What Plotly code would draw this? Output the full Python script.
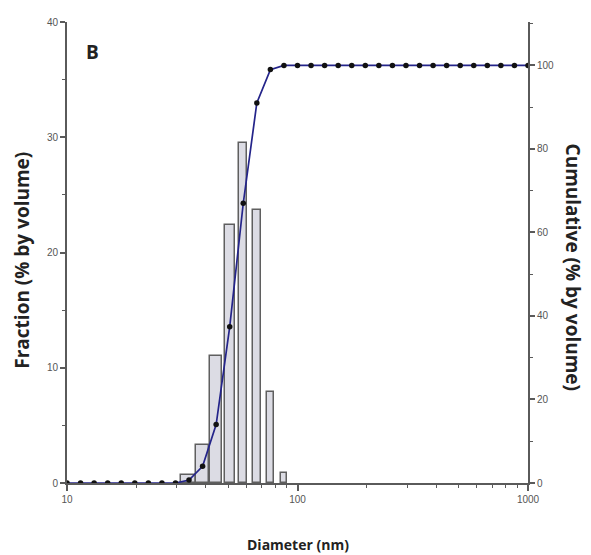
import plotly.graph_objects as go

# diameter grid (nm), log spaced, 17 points per decade from 10 to 1000
diameter = [10 * 10 ** (k / 17) for k in range(35)]

# volume fraction (%) of the histogram bins
bar_index = [9, 10, 11, 12, 13, 14, 15, 16]
fraction = [0.7, 3.3, 11.0, 22.4, 29.5, 23.7, 7.9, 0.9]

# cumulative volume (%) at each grid point
cumulative = [0, 0, 0, 0, 0, 0, 0, 0, 0, 0.7, 4.0, 14.0, 37.4, 67.0, 91.0, 99.0,
              100, 100, 100, 100, 100, 100, 100, 100, 100, 100, 100, 100, 100,
              100, 100, 100, 100, 100, 100]

bar_x = [diameter[i] for i in bar_index]
bin_nm = 5.0  # bar width in nm (plotly takes it in data units)

axis_col = "#5a5a5a"
tick_font = dict(family="Liberation Sans", size=10, color="#555555")
title_font = dict(family="Open Sans", size=19, color="#222222")
minor_x = [20, 30, 40, 50, 60, 70, 80, 90, 200, 300, 400, 500, 600, 700, 800, 900]

fig = go.Figure()

fig.add_trace(go.Bar(
    x=bar_x, y=fraction, width=[bin_nm] * len(bar_x),
    marker=dict(color="#dcdce4", line=dict(color="#5f5f5f", width=1.5)),
    showlegend=False,
))

fig.add_trace(go.Scatter(
    x=diameter, y=cumulative, yaxis="y2", mode="lines+markers",
    line=dict(color="#24248a", width=1.7),
    marker=dict(color="#111111", size=5.5),
    showlegend=False,
))

# page has an 8px body margin, so the figure is a bit smaller than the window
fig.update_layout(
    width=583, height=547,
    margin=dict(l=59, r=63, t=8, b=72),
    paper_bgcolor="white", plot_bgcolor="white",
    bargap=0,
    xaxis=dict(
        type="log", range=[1, 3],
        tickvals=[10, 100, 1000], ticktext=["10", "100", "1000"],
        ticks="outside", ticklen=6, tickwidth=1.5, tickcolor=axis_col,
        minor=dict(tickvals=minor_x, ticks="outside", ticklen=3, tickwidth=1.2,
                   tickcolor=axis_col),
        showline=True, linecolor=axis_col, linewidth=2,
        showgrid=False, zeroline=False,
        tickfont=tick_font,
    ),
    xaxis2=dict(
        type="log", range=[1, 3], overlaying="x", side="top",
        tickvals=[10, 100, 1000], ticktext=["", "", ""],
        ticks="inside", ticklen=5, tickwidth=1.5, tickcolor=axis_col,
        minor=dict(tickvals=minor_x, ticks="inside", ticklen=3, tickwidth=1.2,
                   tickcolor=axis_col),
        showline=True, linecolor=axis_col, linewidth=2,
        showgrid=False, zeroline=False,
    ),
    yaxis=dict(
        range=[0, 40], dtick=10,
        ticks="outside", ticklen=5, tickwidth=1.5, tickcolor=axis_col,
        minor=dict(dtick=5, ticks="outside", ticklen=3, tickwidth=1.2, tickcolor=axis_col),
        showline=True, linecolor=axis_col, linewidth=2,
        showgrid=False, zeroline=False,
        tickfont=tick_font,
    ),
    yaxis2=dict(
        range=[0, 110.4], dtick=20, overlaying="y", side="right",
        ticks="outside", ticklen=5, tickwidth=1.5, tickcolor=axis_col,
        minor=dict(dtick=10, ticks="outside", ticklen=3, tickwidth=1.2, tickcolor=axis_col),
        showline=True, linecolor=axis_col, linewidth=2,
        showgrid=False, zeroline=False,
        tickfont=tick_font,
    ),
    annotations=[
        dict(text="<b>Fraction (% by volume)</b>", xref="paper", yref="paper",
             x=-0.098, y=0.484, textangle=-90, showarrow=False,
             font=title_font, xanchor="center", yanchor="middle"),
        dict(text="<b>Cumulative (% by volume)</b>", xref="paper", yref="paper",
             x=1.097, y=0.468, textangle=90, showarrow=False,
             font=title_font, xanchor="center", yanchor="middle"),
        dict(text="<b>Diameter (nm)</b>", xref="paper", yref="paper",
             x=0.5, y=-0.133, showarrow=False,
             font=dict(family="Open Sans", size=14, color="#222222"),
             xanchor="center", yanchor="middle"),
        dict(text="<b>B</b>", xref="paper", yref="paper",
             x=0.056, y=0.934, showarrow=False,
             font=dict(family="Open Sans", size=19, color="#222222"),
             xanchor="center", yanchor="middle"),
    ],
)

fig.write_html("out.html")
